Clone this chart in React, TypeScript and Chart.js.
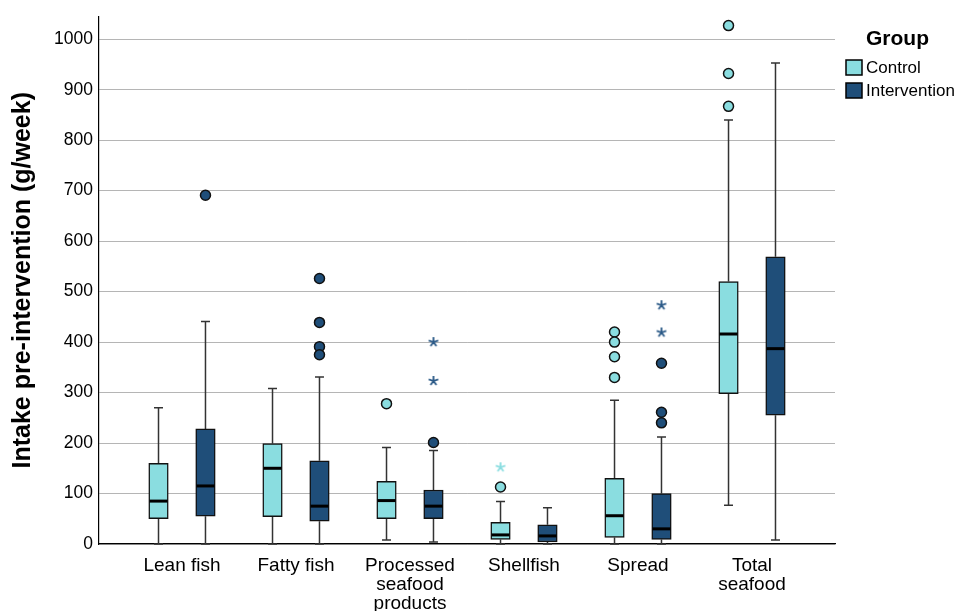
import React, { useEffect, useRef } from 'react';
import { Chart, registerables } from 'chart.js';

Chart.register(...registerables);

// ---- Data ----
const categories: string[][] = [
  ['Lean fish'],
  ['Fatty fish'],
  ['Processed', 'seafood', 'products'],
  ['Shellfish'],
  ['Spread'],
  ['Total', 'seafood'],
];
const groups = ['Control', 'Intervention'];
const yTickValues = [0, 100, 200, 300, 400, 500, 600, 700, 800, 900, 1000];

const controlMin = [0, 0, 8, 0, 0, 77];
const controlQ1 = [50, 54, 50, 9, 13, 298];
const controlMedian = [85, 150, 86, 18, 56, 416];
const controlQ3 = [160, 199, 124, 43, 130, 520];
const controlMax = [270, 308, 191, 84, 285, 840];
const controlOutliers = [[], [], [278], [113], [420, 400, 371, 330], [1027, 932, 867]];
const controlExtremes = [[], [], [], [152], [], []];

const interventionMin = [0, 0, 4, 0, 0, 8];
const interventionQ1 = [55, 45, 50, 4, 9, 255];
const interventionMedian = [115, 75, 75, 16, 30, 387];
const interventionQ3 = [228, 165, 107, 38, 100, 569];
const interventionMax = [441, 331, 185, 72, 212, 953];
const interventionOutliers = [[691], [526, 439, 391, 375], [201], [], [358, 261, 240], []];
const interventionExtremes = [[], [], [400, 323], [], [473, 419], []];

// ---- Style ----
const controlColor = '#8ADDE0';
const interventionColor = '#1F4E79';
const groupColors = [controlColor, interventionColor];
const groupOffset = 0.206;
const fontFamily = "'Liberation Sans', Arial, Helvetica, sans-serif";

const stats = [
  { min: controlMin, q1: controlQ1, median: controlMedian, q3: controlQ3, max: controlMax },
  { min: interventionMin, q1: interventionQ1, median: interventionMedian, q3: interventionQ3, max: interventionMax },
];

function makeStar(color: string): HTMLCanvasElement {
  const c = document.createElement('canvas');
  c.width = 12;
  c.height = 12;
  const g = c.getContext('2d')!;
  g.strokeStyle = color;
  g.lineWidth = 1.8;
  g.lineCap = 'butt';
  g.beginPath();
  for (let k = 0; k < 5; k++) {
    const a = -Math.PI / 2 + (k * 2 * Math.PI) / 5;
    g.moveTo(6, 6);
    g.lineTo(6 + Math.cos(a) * 5, 6 + Math.sin(a) * 5);
  }
  g.stroke();
  return c;
}

const boxPlugin = {
  id: 'boxWhisker',
  beforeDatasetsDraw(chart: any) {
    const ctx = chart.ctx;
    const y = chart.scales.y;
    stats.forEach((s, di) => {
      const meta = chart.getDatasetMeta(di);
      meta.data.forEach((bar: any, j: number) => {
        const x = bar.x;
        const pMax = y.getPixelForValue(s.max[j]);
        const pMin = y.getPixelForValue(s.min[j]);
        const pQ1 = y.getPixelForValue(s.q1[j]);
        const pQ3 = y.getPixelForValue(s.q3[j]);
        ctx.save();
        ctx.strokeStyle = '#333333';
        ctx.lineWidth = 1.5;
        ctx.beginPath();
        ctx.moveTo(x, pMax);
        ctx.lineTo(x, pQ3);
        ctx.moveTo(x, pQ1);
        ctx.lineTo(x, pMin);
        ctx.moveTo(x - 4.5, pMax);
        ctx.lineTo(x + 4.5, pMax);
        ctx.moveTo(x - 4.5, pMin);
        ctx.lineTo(x + 4.5, pMin);
        ctx.stroke();
        ctx.restore();
      });
    });
  },
  afterDatasetDraw(chart: any, args: any) {
    const di = args.index;
    if (di > 1) return;
    const s = stats[di];
    const ctx = chart.ctx;
    const y = chart.scales.y;
    const meta = chart.getDatasetMeta(di);
    meta.data.forEach((bar: any, j: number) => {
      const py = y.getPixelForValue(s.median[j]);
      const half = bar.width / 2;
      ctx.save();
      ctx.strokeStyle = '#000000';
      ctx.lineWidth = 3;
      ctx.beginPath();
      ctx.moveTo(bar.x - half + 0.75, py);
      ctx.lineTo(bar.x + half - 0.75, py);
      ctx.stroke();
      ctx.restore();
    });
  },
};

const legendPlugin = {
  id: 'groupLegend',
  afterDraw(chart: any) {
    const ctx = chart.ctx;
    ctx.save();
    ctx.fillStyle = '#000';
    ctx.textBaseline = 'middle';
    ctx.textAlign = 'left';
    ctx.font = `bold 21px ${fontFamily}`;
    ctx.fillText('Group', 866, 39);
    ctx.font = `17px ${fontFamily}`;
    groups.forEach((g, i) => {
      const top = 60 + i * 23;
      ctx.fillStyle = groupColors[i];
      ctx.fillRect(846, top, 16, 15);
      ctx.strokeStyle = '#000';
      ctx.lineWidth = 1.5;
      ctx.strokeRect(846, top, 16, 15);
      ctx.fillStyle = '#000';
      ctx.fillText(g, 866, top + 8);
    });
    ctx.restore();
  },
};

function pointsFor(lists: number[][], offset: number) {
  const pts: { x: number; y: number }[] = [];
  lists.forEach((vals, j) => vals.forEach((v) => pts.push({ x: j + offset, y: v })));
  return pts;
}

export default function App() {
  const ref = useRef<HTMLCanvasElement | null>(null);

  useEffect(() => {
    if (!ref.current) return;
    const starControl = makeStar(controlColor);
    const starIntervention = makeStar('#2A5987');

    const boxData = (q1: number[], q3: number[], offset: number) =>
      q1.map((v, j) => ({ x: j + offset, y: [v, q3[j]] }));

    const chart = new Chart(ref.current, {
      type: 'bar',
      data: {
        datasets: [
          {
            type: 'bar',
            label: groups[0],
            data: boxData(controlQ1, controlQ3, -groupOffset) as any,
            backgroundColor: controlColor,
            borderColor: '#111111',
            borderWidth: 1.5,
            borderSkipped: false,
            barThickness: 19.5,
            grouped: false,
            order: 1,
          },
          {
            type: 'bar',
            label: groups[1],
            data: boxData(interventionQ1, interventionQ3, groupOffset) as any,
            backgroundColor: interventionColor,
            borderColor: '#111111',
            borderWidth: 1.5,
            borderSkipped: false,
            barThickness: 19.5,
            grouped: false,
            order: 1,
          },
          {
            type: 'scatter',
            label: 'Control outliers',
            data: pointsFor(controlOutliers, -groupOffset),
            backgroundColor: controlColor,
            borderColor: '#111111',
            borderWidth: 1.5,
            pointRadius: 5,
            order: 0,
          } as any,
          {
            type: 'scatter',
            label: 'Intervention outliers',
            data: pointsFor(interventionOutliers, groupOffset),
            backgroundColor: interventionColor,
            borderColor: '#111111',
            borderWidth: 1.5,
            pointRadius: 5,
            order: 0,
          } as any,
          {
            type: 'scatter',
            label: 'Control extremes',
            data: pointsFor(controlExtremes, -groupOffset),
            pointStyle: starControl,
            order: 0,
          } as any,
          {
            type: 'scatter',
            label: 'Intervention extremes',
            data: pointsFor(interventionExtremes, groupOffset),
            pointStyle: starIntervention,
            order: 0,
          } as any,
        ],
      },
      options: {
        animation: false,
        responsive: true,
        maintainAspectRatio: false,
        events: [],
        layout: { padding: { top: 12, right: 123, left: 0, bottom: 0 } },
        plugins: {
          legend: { display: false },
          tooltip: { enabled: false },
        },
        scales: {
          x: {
            type: 'linear',
            min: -0.728,
            max: 5.728,
            offset: false,
            grid: { display: false, offset: false },
            border: { display: true, color: '#000', width: 1.2 },
            afterBuildTicks: (scale: any) => {
              scale.ticks = categories.map((_, i) => ({ value: i }));
            },
            afterFit: (scale: any) => {
              scale.height = 67;
            },
            ticks: {
              autoSkip: false,
              maxRotation: 0,
              minRotation: 0,
              padding: 4,
              color: '#000',
              font: { family: fontFamily, size: 19, lineHeight: 1.0 },
              callback: (v: any) => categories[Math.round(Number(v))] ?? '',
            },
          },
          y: {
            type: 'linear',
            min: 0,
            max: 1045,
            grid: { color: '#b5b5b5', lineWidth: 1, drawTicks: false },
            border: { display: true, color: '#000', width: 1.2 },
            afterBuildTicks: (scale: any) => {
              scale.ticks = yTickValues.map((v) => ({ value: v }));
            },
            afterFit: (scale: any) => {
              scale.width = 99;
            },
            ticks: {
              padding: 6,
              color: '#000',
              font: { family: fontFamily, size: 17.5 },
              callback: (v: any) => String(v),
            },
            title: {
              display: true,
              text: 'Intake pre-intervention (g/week)',
              color: '#000',
              font: { family: fontFamily, size: 25, weight: 'bold' },
              padding: { top: 8, bottom: 0 },
            },
          },
        },
      },
      plugins: [boxPlugin, legendPlugin],
    });

    return () => chart.destroy();
  }, []);

  return (
    <div style={{ position: 'fixed', left: 0, top: 0, width: 958, height: 611, background: '#fff' }}>
      <canvas ref={ref} />
    </div>
  );
}
